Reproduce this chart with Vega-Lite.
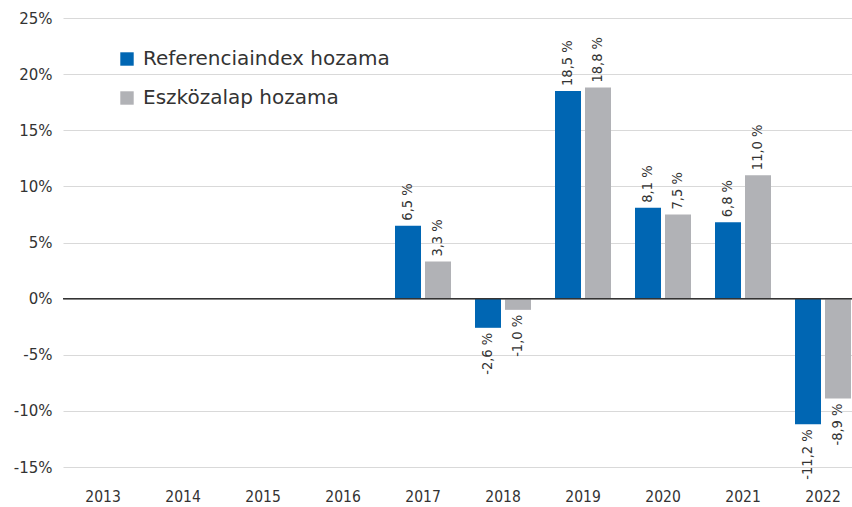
{
  "$schema": "https://vega.github.io/schema/vega-lite/v6.json",
  "width": 789,
  "height": 449,
  "autosize": {"type": "none"},
  "padding": {"left": 63, "top": 18, "right": 0, "bottom": 40},
  "background": "white",
  "data": {"values": [
    {"year": "2017", "series": "Referenciaindex hozama", "v": 6.5},
    {"year": "2017", "series": "Eszközalap hozama", "v": 3.3},
    {"year": "2018", "series": "Referenciaindex hozama", "v": -2.6},
    {"year": "2018", "series": "Eszközalap hozama", "v": -1.0},
    {"year": "2019", "series": "Referenciaindex hozama", "v": 18.5},
    {"year": "2019", "series": "Eszközalap hozama", "v": 18.8},
    {"year": "2020", "series": "Referenciaindex hozama", "v": 8.1},
    {"year": "2020", "series": "Eszközalap hozama", "v": 7.5},
    {"year": "2021", "series": "Referenciaindex hozama", "v": 6.8},
    {"year": "2021", "series": "Eszközalap hozama", "v": 11.0},
    {"year": "2022", "series": "Referenciaindex hozama", "v": -11.2},
    {"year": "2022", "series": "Eszközalap hozama", "v": -8.9}
  ]},
  "transform": [
    {"calculate": "replace(replace(format(datum.v, '.1f'), '.', ','), '\u2212', '-') + ' %'", "as": "lbl"}
  ],
  "encoding": {
    "x": {
      "field": "year", "type": "nominal", "sort": null,
      "scale": {"domain": ["2013", "2014", "2015", "2016", "2017", "2018", "2019", "2020", "2021", "2022"], "range": [0, 800], "paddingInner": 0.3, "paddingOuter": 0.15},
      "axis": {"title": null, "labelAngle": 0, "domain": false, "ticks": false, "labelPadding": 22,
               "labelFont": "DejaVu Sans Condensed", "labelFontSize": 15.5, "labelColor": "#333333"}
    },
    "xOffset": {
      "field": "series", "type": "nominal",
      "sort": ["Referenciaindex hozama", "Eszközalap hozama"],
      "scale": {"domain": ["Referenciaindex hozama", "Eszközalap hozama"], "paddingInner": 0.133, "paddingOuter": 0}
    }
  },
  "layer": [
    {
      "mark": {"type": "bar"},
      "encoding": {
        "y": {
          "field": "v", "type": "quantitative",
          "scale": {"domain": [-15, 25], "nice": false},
          "axis": {"title": null, "values": [-15, -10, -5, 0, 5, 10, 15, 20, 25], "labelExpr": "datum.value + '%'",
                   "domain": false, "ticks": false, "labelPadding": 11, "gridColor": "#d9d9d9", "gridWidth": 1.2,
                   "labelFont": "DejaVu Sans", "labelFontSize": 15, "labelColor": "#333333"}
        },
        "color": {
          "field": "series", "type": "nominal",
          "sort": ["Referenciaindex hozama", "Eszközalap hozama"],
          "scale": {"domain": ["Referenciaindex hozama", "Eszközalap hozama"], "range": ["#0066b3", "#b1b2b6"]},
          "legend": {
            "title": null, "orient": "none", "legendX": 54, "legendY": 31,
            "symbolType": "square", "symbolSize": 180, "symbolStrokeWidth": 0,
            "labelFont": "DejaVu Sans", "labelFontSize": 20, "labelColor": "#333333", "labelLimit": 400,
            "rowPadding": 19, "labelOffset": 6
          }
        }
      }
    },
    {
      "transform": [{"filter": "datum.v > 0"}],
      "mark": {"type": "text", "angle": 270, "align": "left", "baseline": "middle", "dx": 5,
               "font": "DejaVu Sans Condensed", "fontSize": 14.5, "color": "#333333"},
      "encoding": {"y": {"field": "v", "type": "quantitative"}, "text": {"field": "lbl"}}
    },
    {
      "transform": [{"filter": "datum.v < 0"}],
      "mark": {"type": "text", "angle": 270, "align": "right", "baseline": "middle", "dx": -5,
               "font": "DejaVu Sans Condensed", "fontSize": 14.5, "color": "#333333"},
      "encoding": {"y": {"field": "v", "type": "quantitative"}, "text": {"field": "lbl"}}
    },
    {
      "data": {"values": [{"z": 0}]},
      "mark": {"type": "rule", "color": "#333333", "strokeWidth": 1.5},
      "encoding": {"y": {"field": "z", "type": "quantitative"}, "x": {"value": 0}, "x2": {"value": 789}, "xOffset": null}
    }
  ],
  "config": {"view": {"stroke": null}}
}
